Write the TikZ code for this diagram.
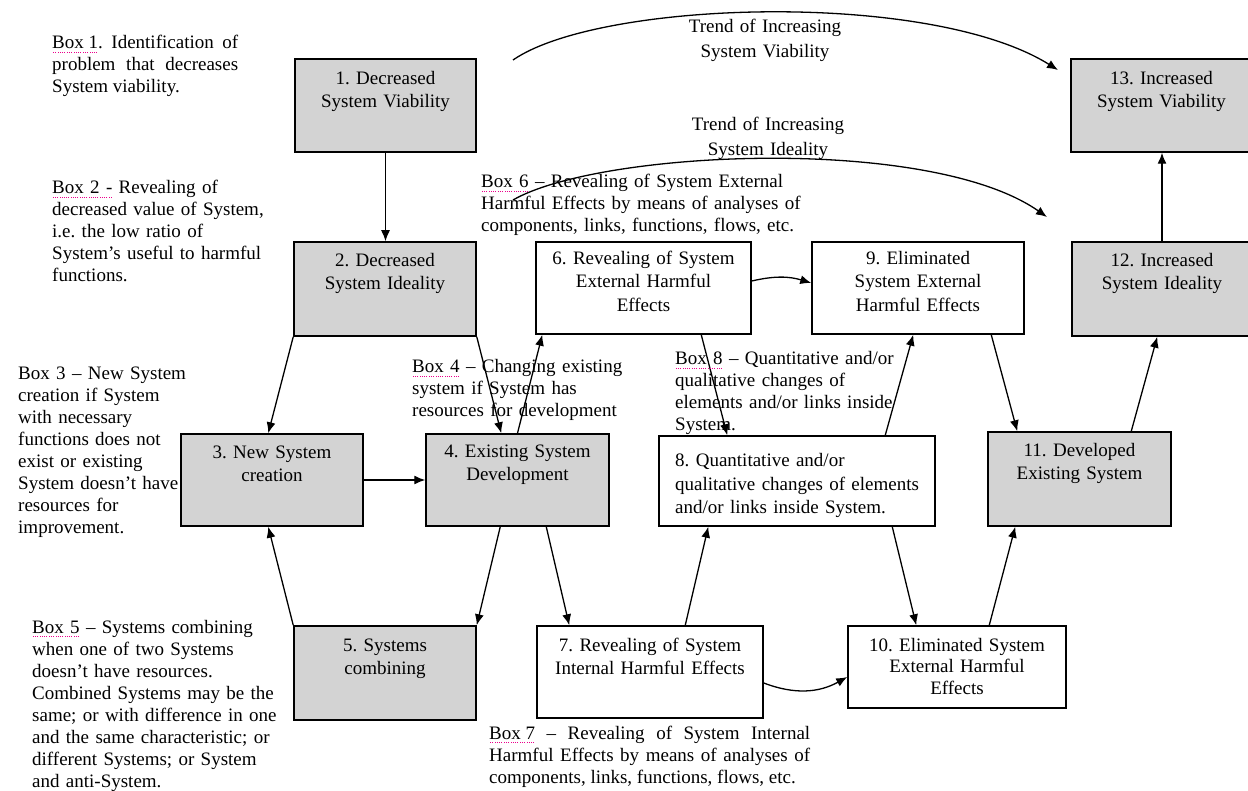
\documentclass[tikz,border=0pt]{standalone}
\usepackage{fontspec}
\setmainfont{Liberation Serif}
\usetikzlibrary{arrows.meta}
\definecolor{boxgray}{RGB}{211,211,211}
\newcommand\sqz[1]{\leavevmode\setbox0\hbox{#1}\rlap{\color{magenta}\raisebox{-3.5pt}{\hbox to \wd0{\xleaders\hbox to 2.2pt{\hss\rule{0.9pt}{0.9pt}\hss}\hfill}}}\box0\relax}
\begin{document}
\frenchspacing
\begin{tikzpicture}[x=1pt,y=-1pt,
  gbox/.style={draw=black, line width=1.5pt, fill=boxgray, inner sep=0pt},
  wbox/.style={draw=black, line width=1.5pt, fill=white, inner sep=0pt},
  lbl/.style={font=\fontsize{19}{23.5}\selectfont, text width=260pt, align=center, inner sep=0pt, anchor=base},
  note/.style={font=\fontsize{19}{22}\selectfont, text width=330pt, align=left, inner sep=0pt, anchor=base west},
  notej/.style={font=\fontsize{19}{22}\selectfont, align=justify, inner sep=0pt, anchor=base west},
  trend/.style={font=\fontsize{19}{25}\selectfont, text width=250pt, align=center, inner sep=0pt, anchor=base},
  arr/.style={line width=1.3pt, -{Latex[length=11pt,width=9pt]}}
]
\path[use as bounding box, fill=white] (0,0) rectangle (1248,791);

% boxes
\node[gbox, minimum width=181pt, minimum height=93pt] (b1) at (385.5,105.5) {};
\node[gbox, minimum width=181pt, minimum height=93pt] (b13) at (1161.5,105.5) {};
\node[gbox, minimum width=182pt, minimum height=94pt] (b2) at (385,289) {};
\node[gbox, minimum width=180pt, minimum height=94pt] (b12) at (1162,289) {};
\node[wbox, minimum width=215pt, minimum height=92pt] (b6) at (643.5,288) {};
\node[wbox, minimum width=212pt, minimum height=92pt] (b9) at (918,288) {};
\node[gbox, minimum width=182pt, minimum height=92pt] (b3) at (272,480) {};
\node[gbox, minimum width=183pt, minimum height=92pt] (b4) at (517.5,480) {};
\node[wbox, minimum width=276pt, minimum height=90pt] (b8) at (797,481) {};
\node[gbox, minimum width=183pt, minimum height=94pt] (b11) at (1079.5,479) {};
\node[gbox, minimum width=182pt, minimum height=94pt] (b5) at (385,673) {};
\node[wbox, minimum width=226pt, minimum height=92pt] (b7) at (650,672) {};
\node[wbox, minimum width=218pt, minimum height=82pt] (b10) at (957,667) {};

% box labels
\node[lbl] (l1) at ([yshift=-26pt]b1.north) {1. Decreased\\System Viability};
\node[lbl] (l13) at ([yshift=-26pt]b13.north) {13. Increased\\System Viability};
\node[lbl] (l2) at ([yshift=-25pt]b2.north) {2. Decreased\\System Ideality};
\node[lbl] (l12) at ([yshift=-25pt]b12.north) {12. Increased\\System Ideality};
\node[lbl] (l6) at ([yshift=-23pt]b6.north) {6. Revealing of System\\External Harmful\\Effects};
\node[lbl] (l9) at ([yshift=-23pt]b9.north) {9. Eliminated\\System External\\Harmful Effects};
\node[lbl] (l3) at ([yshift=-25pt]b3.north) {3. New System\\creation};
\node[lbl] (l4) at ([yshift=-24pt]b4.north) {4. Existing System\\Development};
\node[lbl, text width=255pt, align=left, anchor=base west] (l8) at (675,467) {8. Quantitative and/or\\qualitative changes of elements\\and/or links inside System.};
\node[lbl] (l11) at ([yshift=-25pt]b11.north) {11. Developed\\Existing System};
\node[lbl] (l5) at ([yshift=-26pt]b5.north) {5. Systems\\combining};
\node[lbl] (l7) at ([yshift=-26pt]b7.north) {7. Revealing of System\\Internal Harmful Effects};
\node[lbl, font=\fontsize{19}{21.5}\selectfont] (l10) at ([yshift=-26pt]b10.north) {10. Eliminated System\\External Harmful\\Effects};

% connectors
\draw[arr] (b1.south) -- (b1.south |- b2.north);
\draw[arr] (b2.south west) -- ([xshift=88pt]b3.north west);
\draw[arr] (b2.south east) -- ([xshift=76pt]b4.north west);
\draw[arr] (b4.north) -- ([xshift=7pt]b6.south west);
\draw[arr] (b3.east) -- (b4.west);
\draw[arr] (b5.north west) -- ([xshift=88pt]b3.south west);
\draw[arr] ([xshift=75pt]b4.south west) -- (b5.north east);
\draw[arr] ([xshift=121pt]b4.south west) -- ([xshift=33pt]b7.north west);
\draw[arr] ([xshift=149pt]b7.north west) -- ([xshift=50pt]b8.south west);
\draw[arr] ([xshift=166pt]b6.south west) -- ([xshift=69pt]b8.north west);
\draw[arr] ([yshift=7pt]b6.east) to[bend left=15] ([yshift=5pt]b9.west);
\draw[arr] ([xshift=227pt]b8.north west) -- ([xshift=102pt]b9.south west);
\draw[arr] ([xshift=180pt]b9.south west) -- ([xshift=30pt]b11.north west);
\draw[arr] ([xshift=234pt]b8.south west) -- ([xshift=69pt]b10.north west);
\draw[arr] ([xshift=142pt]b10.north west) -- ([xshift=28pt]b11.south west);
\draw[arr] ([yshift=-11pt]b7.east) to[bend right=25] ([yshift=-10pt]b10.west);
\draw[arr] ([xshift=144pt]b11.north west) -- ([xshift=86pt]b12.south west);
\draw[arr] (b12.north) -- (b12.north |- b13.south);

% trend curves
\coordinate (t1s) at (513,60);
\coordinate (t1e) at (1058,70);
\coordinate (t2s) at (513,200);
\coordinate (t2e) at (1047,217);
\draw[arr] (t1s) .. controls (600,0) and (930,-10) .. (t1e);
\draw[arr] (t2s) .. controls (600,150) and (930,135) .. (t2e);
\node[trend] (tr1) at (765,33) {Trend of Increasing\\System Viability};
\node[trend] (tr2) at (768,131) {Trend of Increasing\\System Ideality};

% annotations
\node[notej, text width=186pt] (n1) at (52,49) {\sqz{Box 1}. Identification of\linebreak problem that decreases\linebreak System viability.};
\node[note] (n2) at (52,194) {\sqz{Box 2 -} Revealing of\\decreased value of System,\\i.e. the low ratio of\\System's useful to harmful\\functions.};
\node[note] (n3) at (18,380) {Box 3 -- New System\\creation if System\\with necessary\\functions does not\\exist or existing\\System doesn't have\\resources for\\improvement.};
\node[note] (n4) at (412,373) {\sqz{Box 4} -- Changing existing\\system if System has\\resources for development};
\node[note] (n5) at (32,633) {\sqz{Box 5} -- Systems combining\\when one of two Systems\\doesn't have resources.\\Combined Systems may be the\\same; or with difference in one\\and the same characteristic; or\\different Systems; or System\\and anti-System.};
\node[note] (n6) at (481,188) {\sqz{Box 6} -- Revealing of System External\\Harmful Effects by means of analyses of\\components, links, functions, flows, etc.};
\node[notej, text width=321pt] (n7) at (489,739) {\sqz{Box 7} -- Revealing of System Internal\linebreak Harmful Effects by means of analyses of\linebreak components, links, functions, flows, etc.};
\node[note] (n8) at (675,365) {\sqz{Box 8} -- Quantitative and/or\\qualitative changes of\\elements and/or links inside\\System.};
\end{tikzpicture}
\end{document}
